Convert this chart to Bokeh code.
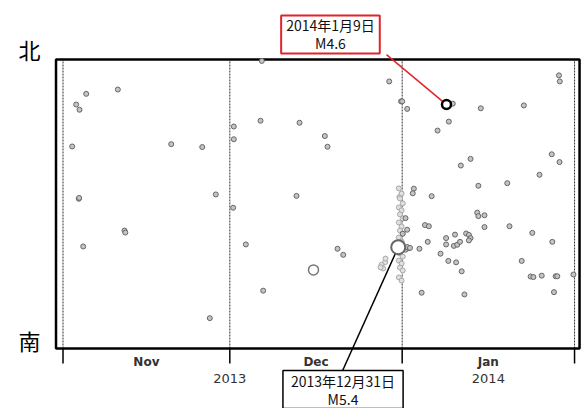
from bokeh.plotting import figure
from bokeh.models import Range1d, FixedTicker, LinearAxis, Label
from bokeh.core.properties import value
from bokeh.embed import file_html
from bokeh.resources import INLINE

# ---- axis definitions (days since 2013-11-01; 0 = south edge, 100 = north edge) ----
month_ticks = [0, 30, 61, 92]
month_label_pos = [15, 45.5, 76.5]
month_labels = ["Nov", "Dec", "Jan"]
year_pos = [30, 76.5]
year_labels = ["2013", "2014"]
ns_pos = [3.1, 103.5]
ns_labels = ["南", "北"]

# ---- ordinary events: day, relative north-south position ----
ev_day = [4.17, 9.86, 2.37, 2.97, 1.65, 19.46, 25.04, 2.84, 2.9, 27.48, 11.06, 11.2, 3.63, 26.4,
          30.72, 30.72, 30.6, 35.76, 58.67, 60.8, 61.0, 35.52, 42.54, 47.09, 47.57, 41.99,
          32.88, 49.37, 50.4, 36.0,
          89.2, 89.35, 70.1, 61.9, 75.14, 82.88, 69.39, 67.36, 73.3, 71.55, 87.9, 89.3, 85.7,
          79.9, 74.7, 63.1, 62.9, 66.3, 74.5, 74.7, 75.8, 65.1, 65.8, 75.8, 80.3, 84.4, 88.0,
          61.6, 61.9, 65.6, 68.9, 70.5, 68.9, 70.3, 70.9, 71.4, 72.5, 73.0, 73.3, 73.0,
          62.2, 61.6, 61.9, 62.4, 64.1, 67.9, 69.3, 70.7, 71.7, 82.5, 84.1, 84.6, 86.1,
          88.6, 88.9, 91.8, 64.5, 72.2, 88.3, 61.1]
ev_lat = [88.1, 89.6, 84.4, 82.6, 69.9, 70.7, 69.7, 51.8, 52.1, 53.3, 40.8, 40.1, 35.3, 10.5,
          76.8, 72.4, 48.7, 99.5, 92.4, 85.5, 85.5, 78.8, 78.1, 73.5, 69.8, 52.8,
          36.0, 34.5, 32.4, 20.0,
          94.5, 92.4, 84.7, 82.9, 83.1, 84.1, 78.5, 75.4, 65.6, 63.3, 67.2, 64.5, 60.1,
          57.2, 56.3, 55.3, 53.7, 52.7, 47.0, 45.8, 46.1, 42.7, 42.3, 42.0, 42.3, 40.0, 36.9,
          45.1, 41.1, 36.9, 38.2, 39.4, 36.0, 35.5, 35.9, 36.9, 39.8, 39.3, 38.2, 37.4,
          34.7, 34.2, 35.1, 34.8, 34.5, 32.8, 30.3, 29.8, 26.7, 30.3, 24.9, 24.7, 25.2,
          25.0, 25.0, 25.6, 19.3, 18.7, 19.5, 39.7]

# ---- faint aftershock cluster around 2013-12-31 ----
as_day = [60.5, 60.4, 60.9, 60.6, 61.1, 60.4, 60.9, 60.6, 61.1, 60.4, 60.9, 60.6, 61.1,
          60.4, 60.9, 60.6, 61.1, 60.4, 60.9, 60.6, 61.1, 60.4, 60.9,
          57.3, 57.95, 57.6, 57.1, 58.0]
as_lat = [52.4, 55.4, 53.6, 51.9, 50.2, 48.8, 47.8, 46.4, 45.0, 43.6, 42.2, 40.8, 39.8,
          38.4, 37.0, 32.9, 31.8, 30.4, 29.4, 28.0, 27.0, 24.6, 23.5,
          29.0, 29.9, 27.7, 28.1, 31.1]

# ---- larger events ----
mid_day, mid_lat = [45.05], [27.2]
m54_day, m54_lat = [60.29], [35.05]
m46_day, m46_lat = [68.97], [84.4]

# plot window (box) limits
box_left, box_right, box_bottom, box_top = -1.26, 92.9, 0, 100

p = figure(width=586, height=408, output_backend="svg", toolbar_location=None,
           x_range=Range1d(-2.25, 94.15), y_range=Range1d(-20.76, 120.4),
           x_axis_type=None, y_axis_type=None,
           min_border_left=50, min_border_right=0, min_border_top=0, min_border_bottom=0)
p.outline_line_color = None
p.background_fill_color = "white"
p.border_fill_color = "white"

ay = LinearAxis(ticker=FixedTicker(ticks=ns_pos, minor_ticks=[]),
                major_label_overrides={v: l for v, l in zip(ns_pos, ns_labels)},
                major_tick_out=0, major_tick_in=0, minor_tick_out=0, minor_tick_in=0,
                axis_line_color=None, major_label_standoff=10,
                major_label_text_font="Noto Sans CJK JP", major_label_text_font_size="22px",
                major_label_text_baseline="middle", major_label_text_color="black")
p.add_layout(ay, "left")

# month boundary dotted lines
p.segment(x0=month_ticks, y0=[box_bottom] * len(month_ticks), x1=month_ticks,
          y1=[box_top] * len(month_ticks), line_color="#333333", line_width=1, line_dash="2 1")

# frame box
p.quad(left=[box_left], right=[box_right], bottom=[box_bottom], top=[box_top],
       fill_color=None, line_color="black", line_width=2.5)

# ticks below frame
p.segment(x0=month_ticks, y0=[box_bottom] * len(month_ticks), x1=month_ticks,
          y1=[box_bottom - 5.2] * len(month_ticks), line_color="black", line_width=1.5)

p.text(x=month_label_pos, y=[-4.5] * len(month_label_pos), text=month_labels,
       text_align="center", text_baseline="middle", text_font=value("DejaVu Sans"),
       text_font_style="bold", text_font_size="12px", text_color="#333333")
p.text(x=year_pos, y=[-10.4] * len(year_pos), text=year_labels,
       text_align="center", text_baseline="middle", text_font=value("DejaVu Sans"),
       text_font_size="13px", text_color="#333333")

p.scatter(as_day, as_lat, size=5, marker="circle", fill_color="#e0e0e0",
          line_color="#a8a8a8", line_width=1)
p.scatter(ev_day, ev_lat, size=5, marker="circle", fill_color="#c4c4c4",
          line_color="#666666", line_width=1)
p.scatter(mid_day, mid_lat, size=10, marker="circle", fill_color="white",
          line_color="#777777", line_width=1.5)

# connectors
p.segment(x0=[58.18], y0=[101.7], x1=m46_day, y1=m46_lat, line_color="#e0242b", line_width=1.5)
p.segment(x0=m54_day, y0=m54_lat, x1=[50.27], y1=[-7.7], line_color="black", line_width=1.5)

p.scatter(m54_day, m54_lat, size=14, marker="circle", fill_color="white",
          line_color="#666666", line_width=2)
p.scatter(m46_day, m46_lat, size=9, marker="circle", fill_color="white",
          line_color="black", line_width=2.5)

p.add_layout(Label(x=48.1, y=108.65, text="2014年1月9日\nM4.6",
                   text_align="center", text_baseline="middle",
                   text_font="Noto Sans CJK JP", text_font_size="14px", text_line_height=0.9,
                   text_color="#111111",
                   border_line_color="#e0242b", border_line_width=2,
                   background_fill_color="white",
                   padding=dict(left=5, right=5, top=0, bottom=0)))
p.add_layout(Label(x=50.36, y=-14.2, text="2013年12月31日\nM5.4",
                   text_align="center", text_baseline="middle",
                   text_font="Noto Sans CJK JP", text_font_size="14px", text_line_height=0.9,
                   text_color="#111111",
                   border_line_color="black", border_line_width=1.5,
                   background_fill_color="white",
                   padding=dict(left=8, right=8, top=0, bottom=0)))

open("out.html", "w").write(file_html(p, INLINE))
